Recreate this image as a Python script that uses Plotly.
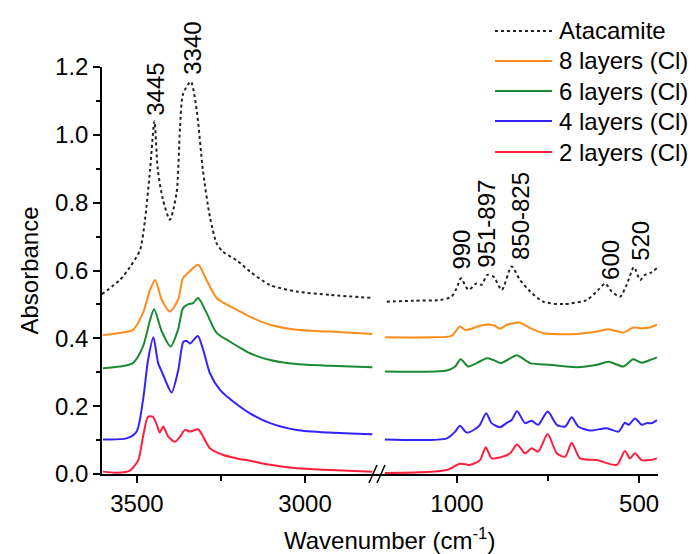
import plotly.graph_objects as go

# ---------------- data ----------------
# high-wavenumber segment (cm-1)
ata_wn_hi = [3604, 3551, 3521, 3491, 3476, 3461, 3448, 3438, 3423, 3402, 3382, 3372, 3363, 3340,
             3322, 3304, 3283, 3263, 3244, 3203, 3164, 3104, 3025, 2926, 2800]
ata_hi = [0.53, 0.572, 0.61, 0.66, 0.75, 0.897, 1.04, 0.897, 0.81, 0.75, 0.83, 1.02, 1.12, 1.157,
          1.07, 0.897, 0.758, 0.68, 0.655, 0.63, 0.597, 0.557, 0.538, 0.528, 0.519]

l8_wn_hi = [3601, 3551, 3512, 3482, 3461, 3446, 3426, 3402, 3378, 3363, 3348, 3318, 3293, 3263,
            3223, 3193, 3164, 3104, 3025, 2926, 2800]
l8_hi = [0.41, 0.416, 0.425, 0.475, 0.543, 0.572, 0.513, 0.479, 0.513, 0.578, 0.593, 0.617, 0.572,
         0.519, 0.494, 0.479, 0.464, 0.44, 0.425, 0.42, 0.413]

l6_wn_hi = [3601, 3551, 3512, 3482, 3461, 3449, 3426, 3400, 3378, 3363, 3348, 3333, 3318, 3293,
            3263, 3223, 3193, 3164, 3104, 3025, 2926, 2800]
l6_hi = [0.312, 0.317, 0.327, 0.376, 0.454, 0.486, 0.42, 0.376, 0.425, 0.489, 0.5, 0.504, 0.519,
         0.475, 0.416, 0.39, 0.372, 0.356, 0.336, 0.324, 0.319, 0.315]

l4_wn_hi = [3601, 3531, 3501, 3482, 3467, 3451, 3437, 3424, 3412, 3397, 3377, 3362, 3352, 3342,
            3319, 3303, 3283, 3253, 3213, 3164, 3104, 3025, 2926, 2800]
l4_hi = [0.102, 0.105, 0.125, 0.218, 0.336, 0.403, 0.327, 0.297, 0.268, 0.24, 0.307, 0.39, 0.392,
         0.385, 0.407, 0.366, 0.297, 0.248, 0.213, 0.179, 0.15, 0.13, 0.122, 0.117]

l2_wn_hi = [3601, 3560, 3521, 3496, 3482, 3467, 3453, 3441, 3432, 3422, 3407, 3387, 3372, 3357,
            3342, 3318, 3303, 3283, 3243, 3203, 3164, 3104, 3025, 2926, 2800]
l2_hi = [0.007, 0.004, 0.01, 0.041, 0.11, 0.169, 0.169, 0.145, 0.122, 0.14, 0.11, 0.095, 0.11,
         0.13, 0.125, 0.132, 0.11, 0.076, 0.056, 0.046, 0.039, 0.027, 0.017, 0.012, 0.007]

# low-wavenumber segment (cm-1)
ata_wn_lo = [1193, 1120, 1047, 1015, 1001, 989, 969, 946, 932, 917, 900, 877, 850, 827, 799, 763,
             708, 644, 612, 593, 575, 552, 534, 514, 497, 484, 470, 451]
ata_lo = [0.508, 0.511, 0.513, 0.523, 0.548, 0.577, 0.543, 0.562, 0.558, 0.587, 0.582, 0.543,
          0.612, 0.572, 0.538, 0.508, 0.501, 0.513, 0.543, 0.562, 0.538, 0.523, 0.558, 0.61,
          0.572, 0.587, 0.592, 0.607]

l8_wn_lo = [1198, 1074, 1015, 992, 978, 964, 937, 914, 896, 882, 863, 836, 827, 799, 763, 671,
            616, 584, 543, 516, 497, 470, 451]
l8_lo = [0.403, 0.403, 0.407, 0.435, 0.425, 0.427, 0.437, 0.441, 0.437, 0.428, 0.44, 0.446, 0.446,
         0.43, 0.415, 0.413, 0.42, 0.427, 0.417, 0.432, 0.43, 0.432, 0.44]

l6_wn_lo = [1198, 1028, 1005, 990, 969, 946, 918, 900, 880, 854, 836, 827, 799, 745, 671, 616,
            584, 543, 516, 493, 470, 451]
l6_lo = [0.302, 0.305, 0.317, 0.338, 0.317, 0.327, 0.341, 0.336, 0.327, 0.341, 0.35, 0.346, 0.327,
         0.322, 0.315, 0.322, 0.331, 0.317, 0.338, 0.328, 0.336, 0.344]

l4_wn_lo = [1198, 1028, 1005, 992, 973, 951, 937, 920, 905, 882, 863, 850, 835, 813, 795, 777,
            751, 726, 703, 685, 667, 635, 589, 557, 539, 529, 511, 493, 479, 465, 451]
l4_lo = [0.102, 0.105, 0.125, 0.142, 0.122, 0.132, 0.145, 0.179, 0.15, 0.138, 0.151, 0.159, 0.185,
         0.15, 0.157, 0.145, 0.184, 0.145, 0.14, 0.167, 0.14, 0.128, 0.135, 0.125, 0.151, 0.145,
         0.164, 0.145, 0.15, 0.15, 0.159]

l2_wn_lo = [1198, 1102, 1028, 992, 964, 937, 921, 905, 882, 854, 835, 813, 795, 777, 751, 726,
            703, 685, 662, 616, 561, 539, 525, 511, 493, 470, 451]
l2_lo = [0.003, 0.005, 0.012, 0.03, 0.027, 0.041, 0.079, 0.046, 0.049, 0.061, 0.087, 0.061, 0.076,
         0.066, 0.118, 0.061, 0.051, 0.092, 0.046, 0.041, 0.027, 0.068, 0.046, 0.061, 0.041,
         0.041, 0.046]

series_names = ["Atacamite", "8 layers (Cl)", "6 layers (Cl)", "4 layers (Cl)", "2 layers (Cl)"]
series_colors = ["#222222", "#FF8C1A", "#1A8A32", "#3322FF", "#FF1F3D"]
series_hi = [(ata_wn_hi, ata_hi), (l8_wn_hi, l8_hi), (l6_wn_hi, l6_hi), (l4_wn_hi, l4_hi), (l2_wn_hi, l2_hi)]
series_lo = [(ata_wn_lo, ata_lo), (l8_wn_lo, l8_lo), (l6_wn_lo, l6_lo), (l4_wn_lo, l4_lo), (l2_wn_lo, l2_lo)]

peak_labels = ["3445", "3340", "990", "951-897", "850-825", "600", "520"]
peak_x = [3445, 3333, 987, 918, 827, 580, 498]
peak_y = [1.05, 1.17, 0.596, 0.602, 0.625, 0.566, 0.622]
peak_axis = ["x", "x", "x2", "x2", "x2", "x2", "x2"]

x_tick_hi = [3500, 3000]
x_tick_lo = [1000, 500]
y_ticks = [0.0, 0.2, 0.4, 0.6, 0.8, 1.0, 1.2]

# ---------------- figure ----------------
FONT = "Liberation Sans, Arial, sans-serif"
FS = 24
L, R, T, B = 102, 38, 67, 80
W, H = 696, 554
PW, PH = W - L - R, H - T - B


def px_x(p):
    return (p - L) / PW


def px_y(p):
    return (H - B - p) / PH


fig = go.Figure()

for i, name in enumerate(series_names):
    dash = "dot" if i == 0 else "solid"
    for (wn, v), ax in ((series_hi[i], "x"), (series_lo[i], "x2")):
        fig.add_trace(go.Scatter(x=wn, y=v, mode="lines", name=name, legendgroup=name,
                                 line=dict(color=series_colors[i], width=2, dash=dash,
                                           shape="spline", smoothing=0.7),
                                 xaxis=ax, yaxis="y", showlegend=False))

split = px_x(378)
axis_common = dict(showline=True, linecolor="black", linewidth=1.5, ticks="outside",
                   ticklen=7, tickwidth=1.5, tickcolor="black", showgrid=False, zeroline=False,
                   tickfont=dict(family=FONT, size=FS, color="black"))

fig.update_layout(
    width=W, height=H,
    margin=dict(l=L, r=R, t=T, b=B),
    paper_bgcolor="white", plot_bgcolor="white",
    font=dict(family=FONT, size=FS, color="black"),
    showlegend=False,
    xaxis=dict(domain=[0, split], range=[3604, 2783], anchor="y",
               tickvals=x_tick_hi, ticktext=[str(t) for t in x_tick_hi],
               minor=dict(tickvals=[3250], ticklen=5, tickwidth=1.5, tickcolor="black", ticks="outside"),
               **axis_common),
    xaxis2=dict(domain=[split, 1], range=[1217, 448], anchor="y",
                tickvals=x_tick_lo, ticktext=[str(t) for t in x_tick_lo],
                minor=dict(tickvals=[750], ticklen=5, tickwidth=1.5, tickcolor="black", ticks="outside"),
                **axis_common),
    yaxis=dict(range=[0, 1.2], anchor="x", tickvals=y_ticks,
               ticktext=["%.1f" % t for t in y_ticks],
               minor=dict(dtick=0.1, ticklen=4, tickwidth=1.5, tickcolor="black", ticks="outside"),
               title=dict(text="Absorbance", font=dict(family=FONT, size=FS), standoff=10),
               **axis_common),
)

# x-axis title
fig.add_annotation(text="Wavenumber (cm<sup>-1</sup>)", xref="paper", yref="paper",
                   x=px_x(389), y=px_y(539), xanchor="center", yanchor="middle",
                   showarrow=False, font=dict(family=FONT, size=FS))

# peak labels
for lab, xv, yv, ax in zip(peak_labels, peak_x, peak_y, peak_axis):
    fig.add_annotation(text=lab, x=xv, y=yv, xref=ax, yref="y", textangle=-90,
                       xanchor="center", yanchor="bottom", showarrow=False,
                       font=dict(family=FONT, size=FS))

# legend (drawn at the reference positions)
leg_rows = [31, 61, 91, 121, 152]
for i, name in enumerate(series_names):
    yy = px_y(leg_rows[i])
    fig.add_shape(type="line", xref="paper", yref="paper", x0=px_x(495), x1=px_x(552),
                  y0=yy, y1=yy,
                  line=dict(color=series_colors[i], width=2, dash="dot" if i == 0 else "solid"))
    fig.add_annotation(text=name, xref="paper", yref="paper", x=px_x(557), y=yy,
                       xanchor="left", yanchor="middle", showarrow=False,
                       font=dict(family=FONT, size=FS))

# axis break marks "//"
for x0 in (369, 377):
    fig.add_shape(type="line", xref="paper", yref="paper",
                  x0=px_x(x0), y0=px_y(483), x1=px_x(x0 + 8), y1=px_y(465),
                  line=dict(color="black", width=1.5))

fig.write_html("out.html")
